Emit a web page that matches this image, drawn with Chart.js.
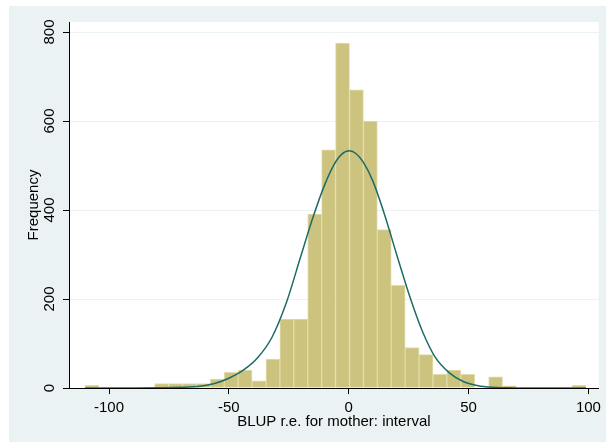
<!DOCTYPE html>
<html>
<head>
<meta charset="utf-8">
<script src="https://cdn.jsdelivr.net/npm/chart.js@4"></script>
<style>
  html, body { margin: 0; padding: 0; background: #fff; }
  canvas { display: block; }
</style>
</head>
<body>
<canvas id="myChart" width="606" height="442"></canvas>
<script>
// histogram bins (centres) and counts
var binCenters = [-107.10, -101.29, -95.48, -89.68, -83.87, -78.06, -72.26, -66.45, -60.65, -54.84,
                  -49.03, -43.23, -37.42, -31.61, -25.81, -20.00, -14.19, -8.39, -2.58, 3.23,
                  9.03, 14.84, 20.65, 26.45, 32.26, 38.06, 43.87, 49.68, 55.48, 61.29,
                  67.09, 72.90, 78.71, 84.51, 90.32, 96.13];
var frequencies = [6, 0, 0, 0, 0, 10, 10, 10, 10, 20,
                   35, 40, 16, 65, 155, 155, 391, 535, 775, 670,
                   600, 356, 231, 91, 75, 31, 40, 31, 0, 25,
                   5, 0, 0, 0, 0, 6];

// normal density overlay
var curveX = [-110, -90, -80, -70, -62, -56, -50, -44, -38, -32, -26, -20, -15, -10, -6, -3, 0.3,
              3, 6, 10, 15, 20, 26, 31, 36, 42, 48, 54, 60, 66, 75, 99];
var curveY = [0, 0, 0.5, 1.5, 4, 10, 22, 40, 68, 114, 192, 296, 382, 457, 503, 525, 533,
              527, 508, 466, 389, 300, 197, 124, 70, 34, 14, 5, 1.5, 0.5, 0, 0];

var xTicks = [-100, -50, 0, 50, 100];
var yTicks = [0, 200, 400, 600, 800];

var font = { family: '"Liberation Sans", Arial, sans-serif', size: 15 };

// Stata-like background: bluish graph region, white plot region
var bgPlugin = {
    id: 'bg',
    beforeDraw: function (chart) {
        var c = chart.ctx, a = chart.chartArea;
        c.save();
        c.fillStyle = '#ffffff';
        c.fillRect(0, 0, chart.width, chart.height);
        c.fillStyle = '#eaf2f3';
        c.fillRect(9, 6, chart.width - 9, chart.height - 6);
        c.fillStyle = '#ffffff';
        c.fillRect(a.left, a.top, a.right - a.left, a.bottom - a.top);
        c.restore();
    }
};

var ctx = document.getElementById('myChart').getContext('2d');
var myChart = new Chart(ctx, {
    type: 'bar',
    data: {
        datasets: [{
            type: 'line',
            data: curveX.map(function (x, i) { return { x: x, y: curveY[i] }; }),
            borderColor: '#1f6b67',
            borderWidth: 1.5,
            pointRadius: 0,
            fill: false,
            cubicInterpolationMode: 'monotone',
            order: 1,
        }, {
            type: 'bar',
            data: binCenters.map(function (x, i) { return { x: x, y: frequencies[i] }; }),
            backgroundColor: '#cbc37e',
            borderColor: '#e2dca8',
            borderWidth: 1,
            barPercentage: 1,
            categoryPercentage: 1,
            order: 2,
        }],
    },
    options: {
        responsive: false,
        animation: false,
        devicePixelRatio: 1,
        layout: { padding: { left: 0, top: 22, right: 5, bottom: 0 } },
        plugins: { legend: { display: false }, tooltip: { enabled: false } },
        scales: {
            x: {
                type: 'linear',
                min: -116.7,
                max: 104.3,
                offset: false,
                afterBuildTicks: function (s) { s.ticks = xTicks.map(function (v) { return { value: v }; }); },
                afterFit: function (s) { s.height = 54; },
                grid: { offset: false, drawOnChartArea: false, drawTicks: true, tickLength: 6, tickColor: '#000' },
                border: { color: '#000', width: 1 },
                ticks: { color: '#000', font: font, padding: 5, maxRotation: 0, autoSkip: false },
                title: { display: true, text: 'BLUP r.e. for mother: interval', color: '#000', font: font,
                         padding: { top: 0, bottom: 11 } },
            },
            y: {
                min: 0,
                max: 822.5,
                afterBuildTicks: function (s) { s.ticks = yTicks.map(function (v) { return { value: v }; }); },
                afterFit: function (s) { s.width = 69; },
                grid: { color: '#eaf2f3', lineWidth: 1, drawTicks: true, tickLength: 6, tickColor: '#000' },
                border: { color: '#000', width: 1 },
                ticks: { color: '#000', font: font, padding: 1, minRotation: 90, maxRotation: 90, crossAlign: 'center' },
                title: { display: true, text: 'Frequency', color: '#000', font: font,
                         padding: { top: 25, bottom: 0 } },
            },
        },
    },
    plugins: [bgPlugin],
});
</script>
</body>
</html>
